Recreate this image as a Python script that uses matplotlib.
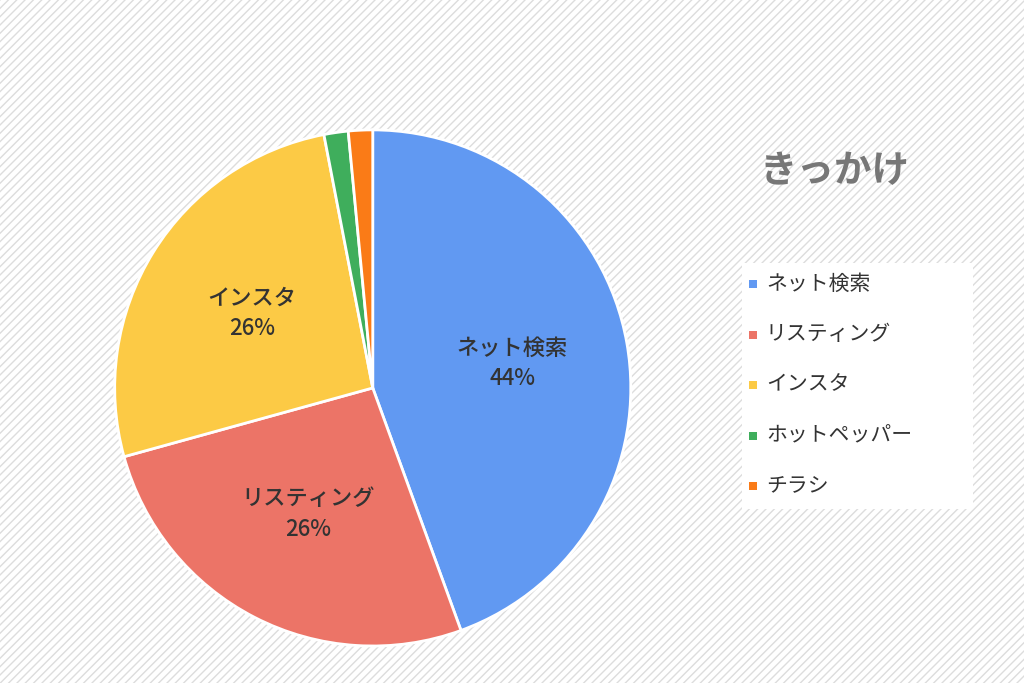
import matplotlib.pyplot as plt
import numpy as np
from matplotlib.patches import Rectangle

plt.rcParams['font.family'] = 'Noto Sans CJK JP'

labels = ['ネット検索', 'リスティング', 'インスタ', 'ホットペッパー', 'チラシ']
values = [44, 26, 26, 1.5, 1.5]
pct_labels = ['44%', '26%', '26%', '2%', '2%']
colors = ['#6199f2', '#ec7467', '#fcca45', '#3fae5c', '#fa7b17']

fig = plt.figure(figsize=(10.24, 6.83), dpi=100)

# striped background
bg = fig.add_axes([0, 0, 1, 1])
bg.add_patch(Rectangle((0, 0), 1, 1, facecolor='white', edgecolor='#dddddd',
                       hatch='////', linewidth=0))
bg.axis('off')

ax = fig.add_axes([0.364 - 0.252, 0.432 - 0.378, 0.504, 0.756])
wedges, _ = ax.pie(values, colors=colors, startangle=90, counterclock=False,
                   wedgeprops=dict(edgecolor='white', linewidth=2))
ax.set_aspect('equal')

for i, w in enumerate(wedges):
    ang = np.deg2rad((w.theta1 + w.theta2) / 2)
    x, y = np.cos(ang), np.sin(ang)
    if values[i] > 5:
        ax.text(0.55 * x, 0.55 * y, labels[i] + '\n' + pct_labels[i], ha='center',
                va='center', fontsize=16, fontweight='medium', color='#333333',
                linespacing=1.4)

# outside labels for small slices
ax.annotate(labels[3] + '\n' + pct_labels[3], xy=(-0.15, 1.01), xytext=(-0.52, 1.19),
            ha='center', va='center', fontsize=16, fontweight='medium', color='#333333',
            linespacing=1.3,
            arrowprops=dict(arrowstyle='-', color='#999999', lw=1.5,
                            relpos=(0.97, 0.1), shrinkA=0, shrinkB=0))
ax.annotate(labels[4] + '\n' + pct_labels[4], xy=(-0.05, 1.02), xytext=(0.2, 1.19),
            ha='center', va='center', fontsize=16, fontweight='medium', color='#333333',
            linespacing=1.3,
            arrowprops=dict(arrowstyle='-', color='#999999', lw=1.5,
                            relpos=(0.0, 0.1), shrinkA=0, shrinkB=0))
ax.set_xlim(-1, 1)
ax.set_ylim(-1, 1)

fig.text(0.815, 0.75, 'きっかけ', fontsize=27, fontweight='bold', color='#777777',
         ha='center', va='center')

# legend box
bg.add_patch(Rectangle((0.725, 0.255), 0.225, 0.36, facecolor='white',
                       edgecolor='none', transform=fig.transFigure))
for i, lab in enumerate(labels):
    yy = 0.585 - i * 0.074
    bg.add_patch(Rectangle((0.731, yy - 0.007), 0.008, 0.012, facecolor=colors[i],
                           edgecolor='none', transform=fig.transFigure))
    fig.text(0.748, yy, lab, fontsize=15, color='#333333', va='center')

fig.savefig('out.png', dpi=100)
